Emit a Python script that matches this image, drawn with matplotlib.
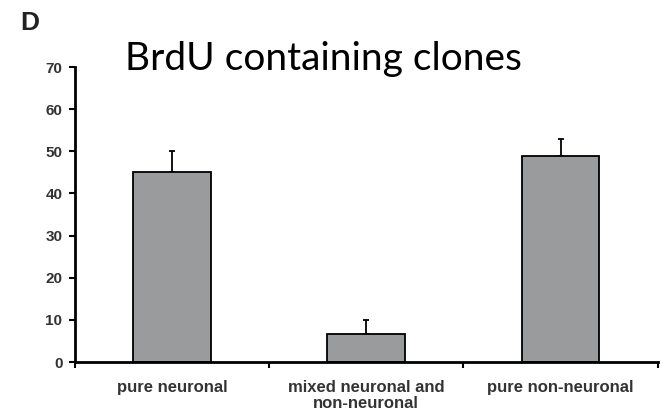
import matplotlib
matplotlib.use("Agg")
import matplotlib.pyplot as plt
import numpy as np

# data
categories = ["pure neuronal", "mixed neuronal and\nnon-neuronal", "pure non-neuronal"]
values = [45, 6.6, 49]
errors = [5, 3.4, 4]
y_ticks = [0, 10, 20, 30, 40, 50, 60, 70]

fig = plt.figure(figsize=(6.63, 4.19), dpi=100)
ax = fig.add_axes([0.113, 0.136, 0.879, 0.704])

x = np.arange(len(categories)) + 0.5
ax.bar(x, values, width=0.4, color="#9a9b9d", edgecolor="black", linewidth=1.3, zorder=2)
ax.errorbar(x, values, yerr=[np.zeros(len(values)), errors], fmt="none",
            ecolor="black", elinewidth=1.3, capsize=2, capthick=1.3, zorder=1)

ax.set_xlim(0, 3)
ax.set_ylim(0, 70)
ax.set_yticks(y_ticks)
ax.set_yticklabels([str(t) for t in y_ticks], fontfamily="Liberation Sans",
                   fontweight="bold", fontsize=11, color="#333333")
ax.set_xticks([0, 1, 2, 3])
ax.set_xticklabels([])
ax.set_xticks(x, minor=True)
ax.set_xticklabels(categories, minor=True, fontfamily="Liberation Sans",
                   fontweight="bold", fontsize=12, color="#333333", linespacing=1.1)
ax.tick_params(axis="x", which="minor", length=0, pad=13)
ax.tick_params(axis="both", which="major", direction="out", length=4, width=1.5)
ax.tick_params(axis="y", pad=5)

for side in ["top", "right"]:
    ax.spines[side].set_visible(False)
for side in ["left", "bottom"]:
    ax.spines[side].set_linewidth(2)

fig.text(0.189, 0.833, "BrdU containing clones", fontfamily="Lato", fontsize=28,
         color="black", va="baseline")
fig.text(0.03, 0.928, "D", fontfamily="Liberation Sans", fontweight="bold", fontsize=19,
         color="#222222", va="baseline")

fig.savefig("out.png", dpi=100)
